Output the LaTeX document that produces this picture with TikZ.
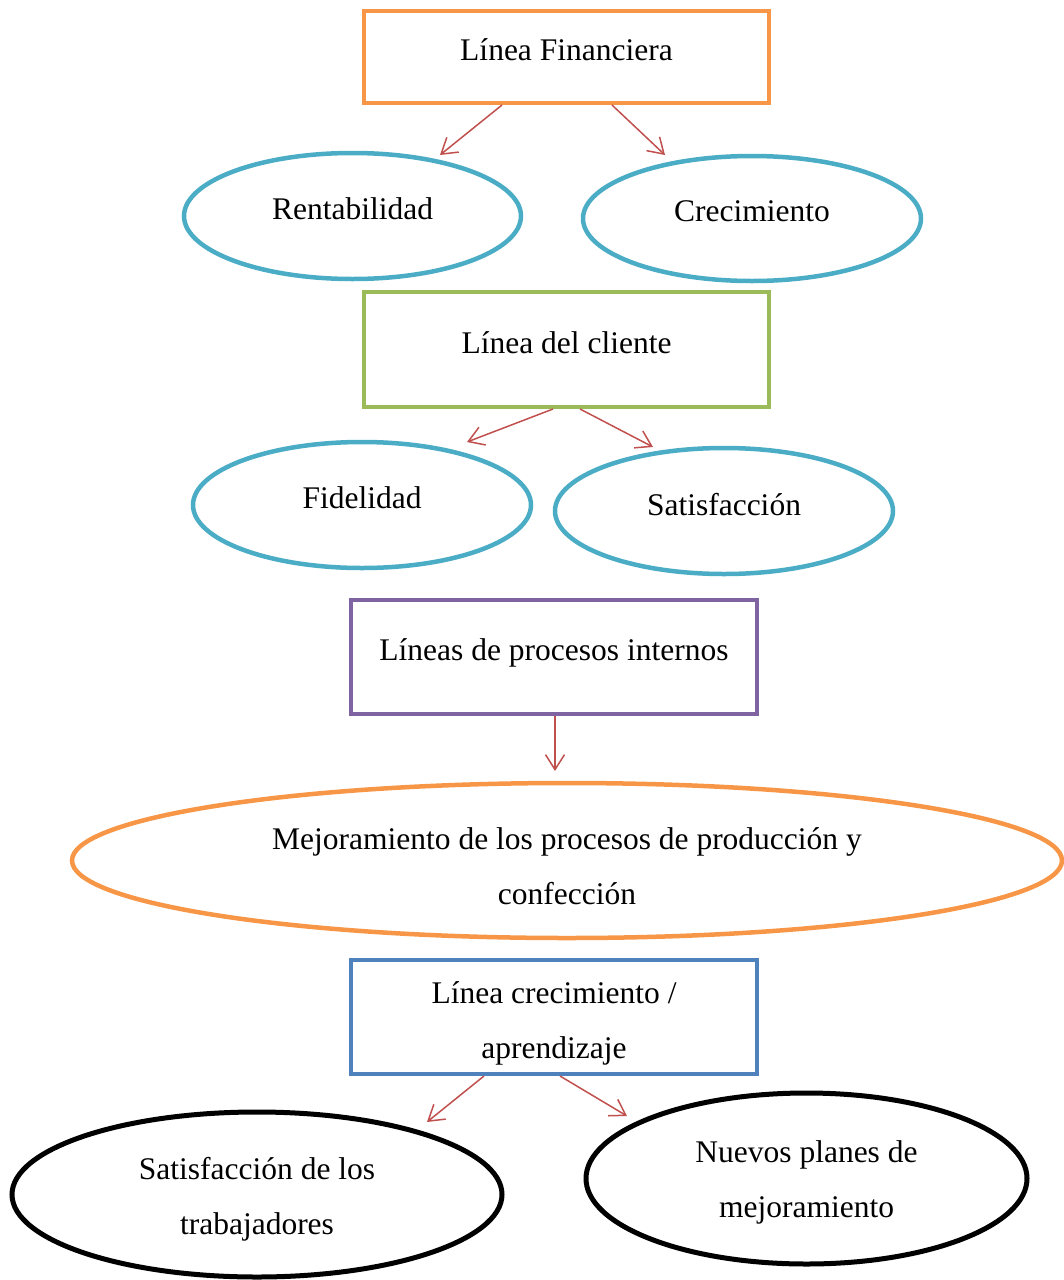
\documentclass[tikz,border=0pt]{standalone}
\usepackage{fontspec}
\setmainfont{Liberation Serif}
\usetikzlibrary{shapes.geometric,arrows.meta}
\definecolor{orng}{HTML}{F79646}
\definecolor{skyb}{HTML}{4BACC6}
\definecolor{grn}{HTML}{9BBB59}
\definecolor{purp}{HTML}{8064A2}
\definecolor{blu}{HTML}{4F81BD}
\definecolor{redd}{HTML}{C0504D}
\newcommand{\twoline}[3]{\raisebox{-#1}[0pt][0pt]{\begin{tabular}{@{}c@{}}#2\\#3\end{tabular}}}
\begin{document}
\begin{tikzpicture}[x=1pt,y=-1pt,
  font=\fontsize{31.5}{55}\selectfont,
  box/.style={draw,rectangle,line width=4pt,inner sep=0pt,align=center},
  oval/.style={draw,ellipse,line width=4.5pt,inner sep=0pt,align=center},
  arr/.style={draw=redd,line width=1.5pt,-{Straight Barb[length=15pt,width=19pt,line width=1.5pt]}}]
\useasboundingbox (0,0) rectangle (1064,1280);
\node[box,draw=orng,minimum width=405pt,minimum height=92pt] (fin) at (566.5,57) {\raisebox{15pt}{Línea Financiera}};
\node[oval,draw=skyb,minimum width=337pt,minimum height=126pt] (rent) at (352.5,216) {\raisebox{14pt}{Rentabilidad}};
\node[oval,draw=skyb,minimum width=338pt,minimum height=125pt] (crec) at (752,218.5) {\raisebox{14pt}{Crecimiento}};
\node[box,draw=grn,minimum width=405pt,minimum height=115pt] (cli) at (566.5,349.5) {\raisebox{14pt}{Línea del cliente}};
\node[oval,draw=skyb,minimum width=338pt,minimum height=126pt] (fid) at (362,505) {\raisebox{15pt}{Fidelidad}};
\node[oval,draw=skyb,minimum width=338pt,minimum height=126pt] (sat) at (724,511) {\raisebox{14pt}{Satisfacción}};
\node[box,draw=purp,minimum width=406pt,minimum height=114pt] (proc) at (554,657) {\raisebox{15pt}{Líneas de procesos internos}};
\node[oval,draw=orng,minimum width=990pt,minimum height=155pt] (mej) at (567,860.5) {\twoline{11.5pt}{Mejoramiento de los procesos de producción y}{confección}};
\node[box,draw=blu,minimum width=406pt,minimum height=114pt] (apr) at (554,1017) {\twoline{9.4pt}{Línea crecimiento /}{aprendizaje}};
\node[oval,draw=black,line width=5pt,minimum width=490pt,minimum height=165pt] (trab) at (257,1194.5) {\twoline{7.9pt}{Satisfacción de los}{trabajadores}};
\node[oval,draw=black,line width=5pt,minimum width=441pt,minimum height=171pt] (nuev) at (806.5,1178.5) {\twoline{6.9pt}{Nuevos planes de}{mejoramiento}};
\coordinate (a1) at (440,155);
\coordinate (a2) at (665,155);
\coordinate (a3) at (467,442);
\coordinate (a4) at (653,447);
\coordinate (a5) at (555,771);
\coordinate (a6) at (427,1122);
\coordinate (a7) at (627,1116);
\draw[arr] ([xshift=-64.5pt]fin.south) -- (a1);
\draw[arr] ([xshift=45.5pt]fin.south) -- (a2);
\draw[arr] ([xshift=-13.5pt]cli.south) -- (a3);
\draw[arr] ([xshift=13.5pt]cli.south) -- (a4);
\draw[arr] ([xshift=1pt]proc.south) -- (a5);
\draw[arr] ([xshift=-70pt]apr.south) -- (a6);
\draw[arr] ([xshift=6pt]apr.south) -- (a7);
\end{tikzpicture}
\end{document}
